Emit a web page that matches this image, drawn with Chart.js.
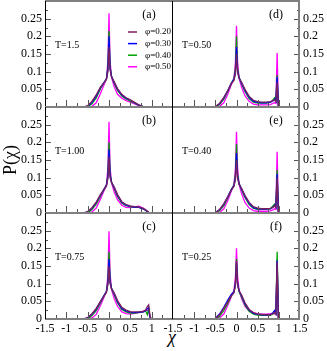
<!DOCTYPE html>
<html>
<head>
<meta charset="utf-8">
<script src="https://cdn.jsdelivr.net/npm/chart.js@4.4.0/dist/chart.umd.min.js"></script>
<style>
  body { margin: 0; background: #fff; overflow: hidden; }
  #wrap { position: relative; width: 327px; height: 351px; }
  #wrap canvas { position: absolute; }
  #xtitle { position: absolute; left: 162px; top: 327px; width: 20px; text-align: center;
            font: italic 18px "Liberation Serif", serif; color: #000; }
</style>
</head>
<body>
<div id="wrap"><div id="xtitle">χ</div></div>
<script>
// chi grid shared by every curve
const CHI = [-0.6,-0.5,-0.4,-0.3,-0.2,-0.12,-0.06,-0.025,0,0.025,0.06,0.12,0.2,0.3,0.4,0.5,0.6,0.7,0.8,0.86,0.9,0.93,0.96,0.99,1.02,1.1];
const PHI = ['0.20', '0.30', '0.40', '0.50'];
const COLORS = ['#7b1f5e', '#0000ff', '#00a000', '#ff00ff'];
const TEMPS = ['T=1.5', 'T=1.00', 'T=0.75', 'T=0.50', 'T=0.40', 'T=0.25'];
const LETTERS = ['(a)', '(b)', '(c)', '(d)', '(e)', '(f)'];
const Y_LABELS = ['0', '0.05', '0.1', '0.15', '0.2', '0.25'];

// (a) T=1.5
const a20 = [0,0.004,0.016,0.034,0.056,0.068,0.078,0.1,0.17,0.105,0.085,0.072,0.052,0.036,0.026,0.02,0.013,0.006,0.001,0,0,0,0,0,0,0];
const a30 = [0,0.002,0.013,0.031,0.055,0.069,0.079,0.108,0.2,0.11,0.086,0.07,0.05,0.034,0.025,0.019,0.012,0.005,0.001,0,0,0,0,0,0,0];
const a40 = [0,0.001,0.009,0.026,0.052,0.068,0.08,0.115,0.215,0.115,0.086,0.068,0.047,0.031,0.023,0.017,0.011,0.005,0.001,0,0,0,0,0,0,0];
const a50 = [0,0,0.002,0.012,0.038,0.062,0.08,0.13,0.265,0.13,0.084,0.058,0.036,0.025,0.018,0.014,0.009,0.004,0.001,0,0,0,0,0,0,0];
// (b) T=1.00
const b20 = [0,0.004,0.015,0.031,0.052,0.066,0.076,0.098,0.16,0.1,0.086,0.074,0.052,0.032,0.024,0.02,0.018,0.017,0.013,0.009,0.005,0.002,0,0,0,0];
const b30 = [0,0.003,0.013,0.029,0.051,0.067,0.078,0.104,0.18,0.106,0.087,0.072,0.05,0.03,0.022,0.019,0.017,0.016,0.012,0.008,0.004,0.001,0,0,0,0];
const b40 = [0,0.001,0.01,0.025,0.048,0.066,0.079,0.11,0.2,0.112,0.087,0.07,0.047,0.028,0.021,0.018,0.017,0.016,0.012,0.007,0.003,0.001,0,0,0,0];
const b50 = [0,0,0.003,0.014,0.04,0.062,0.08,0.128,0.258,0.13,0.085,0.06,0.038,0.022,0.016,0.015,0.017,0.019,0.014,0.008,0.004,0.001,0,0,0,0];
// (c) T=0.75
const c20 = [0,0.004,0.015,0.03,0.05,0.065,0.075,0.098,0.15,0.1,0.085,0.074,0.052,0.033,0.025,0.021,0.02,0.02,0.021,0.026,0.036,0.04,0.01,0,0,0];
const c30 = [0,0.003,0.013,0.028,0.049,0.066,0.077,0.103,0.17,0.105,0.086,0.072,0.049,0.03,0.023,0.019,0.018,0.019,0.02,0.024,0.03,0.032,0.006,0,0,0];
const c40 = [0,0.001,0.01,0.024,0.046,0.065,0.078,0.11,0.19,0.11,0.086,0.069,0.046,0.027,0.02,0.017,0.017,0.018,0.02,0.022,0.012,0.03,0.005,0,0,0];
const c50 = [0,0,0.003,0.013,0.038,0.061,0.079,0.125,0.248,0.128,0.084,0.058,0.036,0.02,0.015,0.014,0.016,0.019,0.022,0.024,0.025,0.022,0.004,0,0,0];
// (d) T=0.50
const d20 = [0,0.001,0.01,0.027,0.048,0.066,0.075,0.095,0.15,0.098,0.082,0.07,0.05,0.03,0.019,0.015,0.014,0.014,0.015,0.018,0.02,0.015,0.07,0,0,0];
const d30 = [0,0.001,0.009,0.026,0.048,0.068,0.078,0.1,0.17,0.103,0.083,0.068,0.047,0.027,0.016,0.013,0.012,0.012,0.014,0.017,0.022,0.016,0.085,0,0,0];
const d40 = [0,0,0.007,0.022,0.046,0.068,0.08,0.108,0.2,0.11,0.084,0.066,0.044,0.024,0.014,0.011,0.011,0.011,0.013,0.02,0.026,0.018,0.09,0,0,0];
const d50 = [0,0,0.002,0.012,0.038,0.064,0.082,0.125,0.23,0.128,0.082,0.056,0.032,0.016,0.008,0.006,0.006,0.006,0.007,0.01,0.012,0.01,0.153,0,0,0];
// (e) T=0.40
const e20 = [0,0.001,0.01,0.026,0.047,0.065,0.075,0.095,0.15,0.098,0.082,0.07,0.05,0.03,0.018,0.014,0.012,0.012,0.013,0.016,0.02,0.015,0.1,0,0,0];
const e30 = [0,0.001,0.009,0.025,0.047,0.067,0.077,0.1,0.17,0.103,0.083,0.068,0.047,0.027,0.015,0.012,0.011,0.011,0.012,0.016,0.022,0.016,0.11,0,0,0];
const e40 = [0,0,0.007,0.021,0.045,0.067,0.079,0.108,0.195,0.11,0.084,0.066,0.044,0.024,0.013,0.01,0.01,0.01,0.012,0.02,0.025,0.018,0.122,0,0,0];
const e50 = [0,0,0.002,0.012,0.037,0.063,0.081,0.125,0.23,0.128,0.082,0.055,0.03,0.014,0.007,0.005,0.005,0.005,0.006,0.009,0.012,0.01,0.173,0,0,0];
// (f) T=0.25
const f20 = [0,0.001,0.012,0.03,0.05,0.066,0.074,0.095,0.165,0.097,0.08,0.068,0.046,0.027,0.018,0.014,0.013,0.012,0.012,0.015,0.018,0.014,0.16,0,0,0];
const f30 = [0,0.002,0.014,0.033,0.055,0.07,0.077,0.1,0.16,0.1,0.08,0.066,0.044,0.025,0.016,0.013,0.012,0.011,0.012,0.018,0.024,0.016,0.165,0,0,0];
const f40 = [0,0,0.008,0.024,0.046,0.066,0.076,0.1,0.17,0.1,0.078,0.062,0.04,0.022,0.014,0.011,0.01,0.01,0.01,0.014,0.018,0.014,0.19,0,0,0];
const f50 = [0,0,0.003,0.014,0.04,0.064,0.08,0.12,0.2,0.12,0.082,0.058,0.036,0.022,0.017,0.015,0.014,0.014,0.015,0.016,0.015,0.012,0.17,0,0,0];

const PANEL_DATA = [
    [a20, a30, a40, a50], [b20, b30, b40, b50], [c20, c30, c40, c50],
    [d20, d30, d40, d50], [e20, e30, e40, e50], [f20, f30, f40, f50]
];

// layout of the 2x3 grid
const ROW_TOP = [1, 107, 213];
const ROW_H = 106;
const PAD = 8;
const COLS = [
    { left: 0, width: 173, padL: 0, yw: 45, ypos: 'left' },
    { left: 160, width: 167, padL: 13, yw: 27, ypos: 'right' }
];
const SERIF = '"Liberation Serif", "Times New Roman", serif';
const GREY = '#808080';

function fmt(v) {
    return String(Math.round(v * 100) / 100);
}

function line(ctx, x1, y1, x2, y2) {
    ctx.beginPath();
    ctx.moveTo(x1, y1);
    ctx.lineTo(x2, y2);
    ctx.stroke();
}

//Draws the frame, inward ticks and the panel texts
const framePlugin = {
    id: 'frame',
    afterDatasetsDraw(chart, args, opts) {
        const { ctx, chartArea: a } = chart;
        const x = chart.scales.x, y = chart.scales.y;
        ctx.save();

        // inward tick marks
        ctx.strokeStyle = '#555';
        ctx.lineWidth = 1;
        for (let k = -5; k <= 5; k++) {
            const v = k * 0.25;
            const px = Math.round(x.getPixelForValue(v)) + 0.5;
            line(ctx, px, a.bottom, px, a.bottom - (k % 2 === 0 ? 7 : 4));
        }
        for (let k = 1; k <= 11; k++) {
            const py = Math.round(y.getPixelForValue(k * 0.025)) + 0.5;
            const len = k % 2 === 0 ? 6 : 3;
            if (opts.col === 0) line(ctx, a.left, py, a.left + len, py);
            else line(ctx, a.right, py, a.right - len, py);
        }

        // frame
        ctx.strokeStyle = GREY;
        ctx.lineWidth = 2;
        line(ctx, a.left, a.top, a.right, a.top);
        line(ctx, a.left, a.bottom, a.right, a.bottom);
        if (opts.col === 1) line(ctx, a.right - 1, a.top, a.right - 1, a.bottom);
        ctx.strokeStyle = '#000';
        ctx.lineWidth = 1;
        if (opts.col === 0) {
            line(ctx, a.left + 0.5, a.top, a.left + 0.5, a.bottom);
            line(ctx, a.right - 0.5, a.top, a.right - 0.5, a.bottom);
        } else {
            line(ctx, a.left - 0.5, a.top, a.left - 0.5, a.bottom);
        }

        // panel letter and temperature
        ctx.fillStyle = '#000';
        ctx.textBaseline = 'middle';
        ctx.textAlign = 'center';
        ctx.font = '12px ' + SERIF;
        ctx.fillText(opts.letter, a.right - 24, a.top + 14);
        ctx.textAlign = 'left';
        ctx.font = '10px ' + SERIF;
        ctx.fillText(opts.temp, a.left + (opts.col === 0 ? 10 : 9), a.top + 44);

        // legend only in (a)
        if (opts.legend) {
            ctx.font = '9px ' + SERIF;
            chart.data.datasets.forEach((ds, i) => {
                const ly = a.top + 31 + i * 11.6;
                ctx.strokeStyle = ds.borderColor;
                ctx.lineWidth = 1.5;
                line(ctx, a.left + 83, ly, a.left + 92, ly);
                ctx.fillStyle = '#000';
                ctx.fillText(ds.label, a.left + 100, ly);
            });
        }
        ctx.restore();
    }
};

//Creates one panel of the grid
function createPanel(i) {
    const col = i < 3 ? 0 : 1;
    const row = i % 3;
    const c = COLS[col];
    const bottomRow = row === 2;
    const top = ROW_TOP[row] - PAD;
    const height = bottomRow ? 351 - top : ROW_H + 2 * PAD;

    const canvas = document.createElement('canvas');
    canvas.width = c.width;
    canvas.height = height;
    canvas.style.left = c.left + 'px';
    canvas.style.top = top + 'px';
    document.getElementById('wrap').appendChild(canvas);

    const datasets = PANEL_DATA[i].map((series, s) => ({
        label: 'φ=' + PHI[s],
        data: CHI.map((v, k) => ({ x: v, y: series[k] })),
        borderColor: COLORS[s],
        borderWidth: 1.3,
        pointRadius: 0,
        tension: 0,
        fill: false
    }));

    new Chart(canvas, {
        type: 'line',
        data: { datasets: datasets },
        options: {
            responsive: false,
            animation: false,
            events: [],
            layout: { padding: { top: PAD, bottom: bottomRow ? 0 : PAD, left: c.padL, right: 0 } },
            plugins: {
                legend: { display: false },
                tooltip: { enabled: false },
                frame: { col: col, letter: LETTERS[i], temp: TEMPS[i], legend: i === 0 }
            },
            scales: {
                x: {
                    type: 'linear',
                    min: -1.5,
                    max: 1.5,
                    display: bottomRow,
                    grid: { display: false, drawTicks: false },
                    border: { display: false },
                    ticks: {
                        stepSize: 0.5,
                        autoSkip: false,
                        maxRotation: 0,
                        padding: 3,
                        color: '#000',
                        font: { family: SERIF, size: 12 },
                        callback: (v) => (col === 0 && v > 1.4) ? '' : fmt(v)
                    },
                    afterFit(scale) {
                        scale.height = bottomRow ? 32 : 0;
                        scale.paddingLeft = 0;
                        scale.paddingRight = 0;
                    }
                },
                y: {
                    position: c.ypos,
                    min: 0,
                    max: 0.3,
                    grid: { display: false, drawTicks: false },
                    border: { display: false },
                    title: {
                        display: i === 1,
                        text: 'P(χ)',
                        color: '#000',
                        padding: 0,
                        font: { family: SERIF, size: 18 }
                    },
                    ticks: {
                        stepSize: 0.05,
                        autoSkip: false,
                        padding: 3,
                        color: '#000',
                        font: { family: SERIF, size: 12 },
                        callback: (v) => {
                            const k = Math.round(v / 0.05);
                            return k < Y_LABELS.length ? Y_LABELS[k] : '';
                        }
                    },
                    afterFit(scale) {
                        scale.width = c.yw;
                        scale.paddingTop = 0;
                        scale.paddingBottom = 0;
                    }
                }
            }
        },
        plugins: [framePlugin]
    });
}

for (let i = 0; i < 6; i++) {
    createPanel(i);
}
</script>
</body>
</html>
